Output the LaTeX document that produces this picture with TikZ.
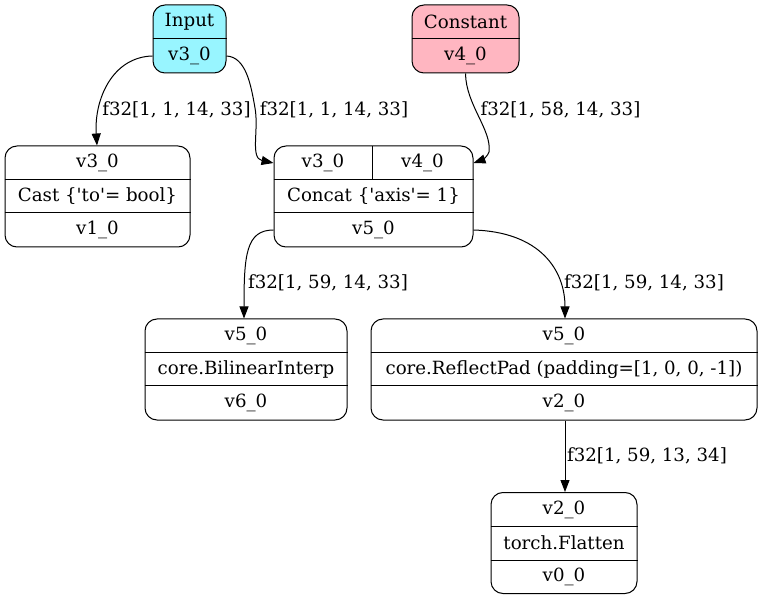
\documentclass[tikz,border=0pt]{standalone}
\usepackage{fontspec}
\setmainfont{DejaVu Serif}
\usetikzlibrary{arrows.meta}

\definecolor{inputcol}{HTML}{98F5FF}
\definecolor{constcol}{HTML}{FFB6C1}

\tikzset{
	rec/.style={draw, rounded corners=12pt, inner sep=0pt, minimum height=101pt},
	cell/.style={inner sep=0pt, minimum height=34pt},
	lbl/.style={inner sep=0pt, anchor=center},
	link/.style={-{Triangle[length=12pt,width=9pt]}, line width=1pt}
}

\begin{document}
\begin{tikzpicture}[x=1pt, y=-1pt, font=\fontsize{18.2}{22}\selectfont, line width=1pt]
			\useasboundingbox (0,0) rectangle (763,601);
			
			% input and constant
			\node[rec, fill=inputcol, minimum width=73pt, minimum height=68pt] (inp) at (189.5,39) {};
			\node[cell, minimum width=73pt] (in1) at (189.5,22) {Input};
			\node[cell, minimum width=73pt] (in2) at (189.5,56) {v3\_0};
			\draw (inp.west |- 0,39) -- (inp.east |- 0,39);
			
			\node[rec, fill=constcol, minimum width=107pt, minimum height=68pt] (con) at (465.5,39) {};
			\node[cell, minimum width=107pt] (con1) at (465.5,22) {Constant};
			\node[cell, minimum width=107pt] (con2) at (465.5,56) {v4\_0};
			\draw (con.west |- 0,39) -- (con.east |- 0,39);
			
			% cast
			\node[rec, minimum width=185pt] (cast) at (97.5,196.5) {};
			\node[cell, minimum width=185pt] (cast1) at (97.5,163) {v3\_0};
			\node[cell, minimum width=185pt] (cast2) at (97.5,196.5) {Cast \{\textquotesingle to\textquotesingle= bool\}};
			\node[cell, minimum width=185pt] (cast3) at (97.5,230) {v1\_0};
			\draw (cast.west |- 0,180) -- (cast.east |- 0,180);
			\draw (cast.west |- 0,213) -- (cast.east |- 0,213);
			
			% concat
			\node[rec, minimum width=199pt] (cat) at (373.5,196.5) {};
			\node[cell, minimum width=98pt] (cat1) at (323,163) {v3\_0};
			\node[cell, minimum width=101pt] (cat2) at (422.5,163) {v4\_0};
			\node[cell, minimum width=199pt] (cat3) at (373.5,196.5) {Concat \{\textquotesingle axis\textquotesingle= 1\}};
			\node[cell, minimum width=199pt] (cat4) at (373.5,230) {v5\_0};
			\draw (cat.west |- 0,180) -- (cat.east |- 0,180);
			\draw (cat.west |- 0,213) -- (cat.east |- 0,213);
			\draw (372,146) -- (372,180);
			
			% bilinear
			\node[rec, minimum width=202pt] (bil) at (246,369.5) {};
			\node[cell, minimum width=202pt] (bil1) at (246,336) {v5\_0};
			\node[cell, minimum width=202pt] (bil2) at (246,369.5) {core.BilinearInterp};
			\node[cell, minimum width=202pt] (bil3) at (246,403) {v6\_0};
			\draw (bil.west |- 0,353) -- (bil.east |- 0,353);
			\draw (bil.west |- 0,386) -- (bil.east |- 0,386);
			
			% reflect pad
			\node[rec, minimum width=386pt] (pad) at (564,369.5) {};
			\node[cell, minimum width=386pt] (pad1) at (564,336) {v5\_0};
			\node[cell, minimum width=386pt] (pad2) at (564,369.5) {core.ReflectPad (padding=[1, 0, 0, -1])};
			\node[cell, minimum width=386pt] (pad3) at (564,403) {v2\_0};
			\draw (pad.west |- 0,353) -- (pad.east |- 0,353);
			\draw (pad.west |- 0,386) -- (pad.east |- 0,386);
			
			% flatten
			\node[rec, minimum width=146pt] (flat) at (564,543) {};
			\node[cell, minimum width=146pt] (flat1) at (564,509.5) {v2\_0};
			\node[cell, minimum width=146pt] (flat2) at (564,543) {torch.Flatten};
			\node[cell, minimum width=146pt] (flat3) at (564,576.5) {v0\_0};
			\draw (flat.west |- 0,526) -- (flat.east |- 0,526);
			\draw (flat.west |- 0,560) -- (flat.east |- 0,560);
			
			% edges
			\draw[link] (in2.west) .. controls (112,57) and (94,100) .. (cast.north -| 97,0);
			\node[lbl] at (176.5,110) {f32[1, 1, 14, 33]};
			
			\draw[link] (in2.east) .. controls (246,57) and (251,85) .. (255,108) .. controls (259,130) and (250,158) .. (cat1.west);
			\node[lbl] at (334,110) {f32[1, 1, 14, 33]};
			
			\draw[link] (con2.south) .. controls (466,105) and (492,130) .. (489,152) .. controls (488,156) and (482,160) .. (cat2.east);
			\node[lbl] at (560.5,110) {f32[1, 58, 14, 33]};
			
			\draw[link] (cat4.west) .. controls (246,230) and (244,255) .. (bil.north -| 244,0);
			\node[lbl] at (328,283) {f32[1, 59, 14, 33]};
			
			\draw[link] (cat4.east) .. controls (540,232) and (565,270) .. (pad.north -| 565,0);
			\node[lbl] at (644,283) {f32[1, 59, 14, 33]};
			
			\draw[link] (pad3.south -| 565,0) -- (flat.north -| 565,0);
			\node[lbl] at (647,456) {f32[1, 59, 13, 34]};
		\end{tikzpicture}
\end{document}
